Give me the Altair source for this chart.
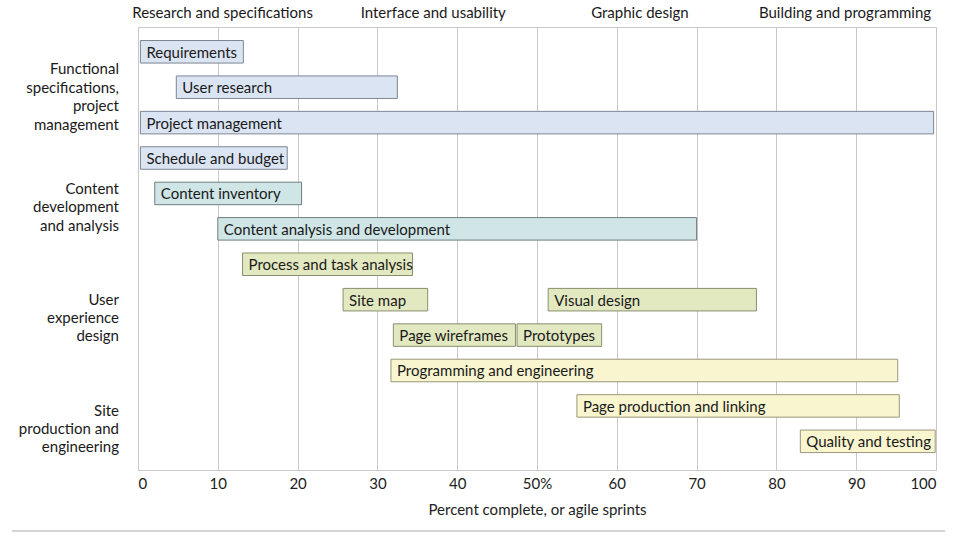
import altair as alt
import pandas as pd

# Tasks (bars)
tasks = ["Requirements", "User research", "Project management", "Schedule and budget",
         "Content inventory", "Content analysis and development", "Process and task analysis",
         "Site map", "Visual design", "Page wireframes", "Prototypes",
         "Programming and engineering", "Page production and linking", "Quality and testing"]
rows = [0, 1, 2, 3, 4, 5, 6, 7, 7, 8, 8, 9, 10, 11]
starts = [0.3, 4.8, 0.3, 0.3, 2.1, 10.0, 13.1, 25.7, 51.4, 32.0, 47.5, 31.7, 55.0, 83.0]
ends = [13.2, 32.5, 99.7, 18.7, 20.5, 70.0, 34.4, 36.3, 77.5, 47.3, 58.1, 95.2, 95.4, 99.9]
groups = ["spec", "spec", "spec", "spec", "content", "content", "ux", "ux", "ux", "ux", "ux",
          "site", "site", "site"]

# Phase labels along the top
phases = ["Research and specifications", "Interface and usability", "Graphic design",
          "Building and programming"]
phase_x = [10.6, 37.0, 62.9, 88.6]

# Group labels on the left (row position of first line)
group_labels = [["Functional", "specifications,", "project", "management"],
                ["Content", "development", "and analysis"],
                ["User", "experience", "design"],
                ["Site", "production and", "engineering"]]
group_rows = [0.50, 3.87, 7.00, 10.13]

x_ticks = [0, 10, 20, 30, 40, 50, 60, 70, 80, 90, 100]

group_keys = ["spec", "content", "ux", "site"]
fills = ["#dbe4f3", "#cfe5e6", "#e2e8c0", "#f8f5cf"]
strokes = ["#7d8694", "#6f7d7e", "#8a8f70", "#9a977a"]

FONT = "Lato"
HALF = 0.318

df = pd.DataFrame({"task": tasks, "row": rows, "start": starts, "end": ends, "group": groups})
df["y0"] = df["row"] - HALF
df["y1"] = df["row"] + HALF

phase_df = pd.DataFrame({"label": phases, "x": phase_x})
grp_df = pd.DataFrame({"label": group_labels, "row": group_rows})

xscale = alt.Scale(domain=[0, 100], nice=False, zero=False)
yscale = alt.Scale(domain=[-0.70, 11.81], reverse=True, nice=False, zero=False)

base = alt.Chart(df)

bars = base.mark_bar(strokeWidth=1, cornerRadius=0).encode(
    x=alt.X("start:Q", scale=xscale,
            axis=alt.Axis(values=x_ticks, grid=True, gridColor="#c8c8c8", gridWidth=1,
                          ticks=False, domain=False, labelFontSize=15, labelFont=FONT,
                          labelColor="#222222", labelPadding=6,
                          labelExpr="datum.value == 50 ? '50%' : datum.label",
                          title="Percent complete, or agile sprints", titleFont=FONT,
                          titleFontSize=15, titleFontWeight="normal", titleColor="#222222",
                          titlePadding=11)),
    x2="end:Q",
    y=alt.Y("y0:Q", scale=yscale, axis=None),
    y2="y1:Q",
    fill=alt.Fill("group:N", scale=alt.Scale(domain=group_keys, range=fills), legend=None),
    stroke=alt.Stroke("group:N", scale=alt.Scale(domain=group_keys, range=strokes), legend=None),
)

bar_text = base.mark_text(align="left", baseline="middle", dx=6, dy=1, font=FONT, fontSize=15,
                          color="#1a1a1a").encode(
    x="start:Q",
    y=alt.Y("row:Q", scale=yscale),
    text="task:N",
)

phase_text = alt.Chart(phase_df).mark_text(align="center", baseline="middle", font=FONT,
                                           fontSize=15, color="#1a1a1a").encode(
    x=alt.X("x:Q", scale=xscale),
    y=alt.value(-14),
    text="label:N",
)

group_text = alt.Chart(grp_df).mark_text(align="right", baseline="middle", font=FONT,
                                         fontSize=15, lineHeight=18.4, color="#1a1a1a").encode(
    x=alt.value(-19),
    y=alt.Y("row:Q", scale=yscale),
    text="label",
)

bottom_rule = alt.Chart(phase_df).mark_rule(color="#d4d4d4", strokeWidth=1.5).encode(
    x=alt.value(-126), x2=alt.value(807), y=alt.value(504)
)

chart = alt.layer(bars, bar_text, phase_text, group_text, bottom_rule).properties(
    width=798, height=443,
    autosize=alt.AutoSizeParams(type="none"),
    padding={"left": 138, "top": 27, "right": 24, "bottom": 66},
    background="white",
).configure_view(stroke="#c8c8c8", strokeWidth=1)

chart.save("out.html", embed_options={"renderer": "svg", "actions": False})
